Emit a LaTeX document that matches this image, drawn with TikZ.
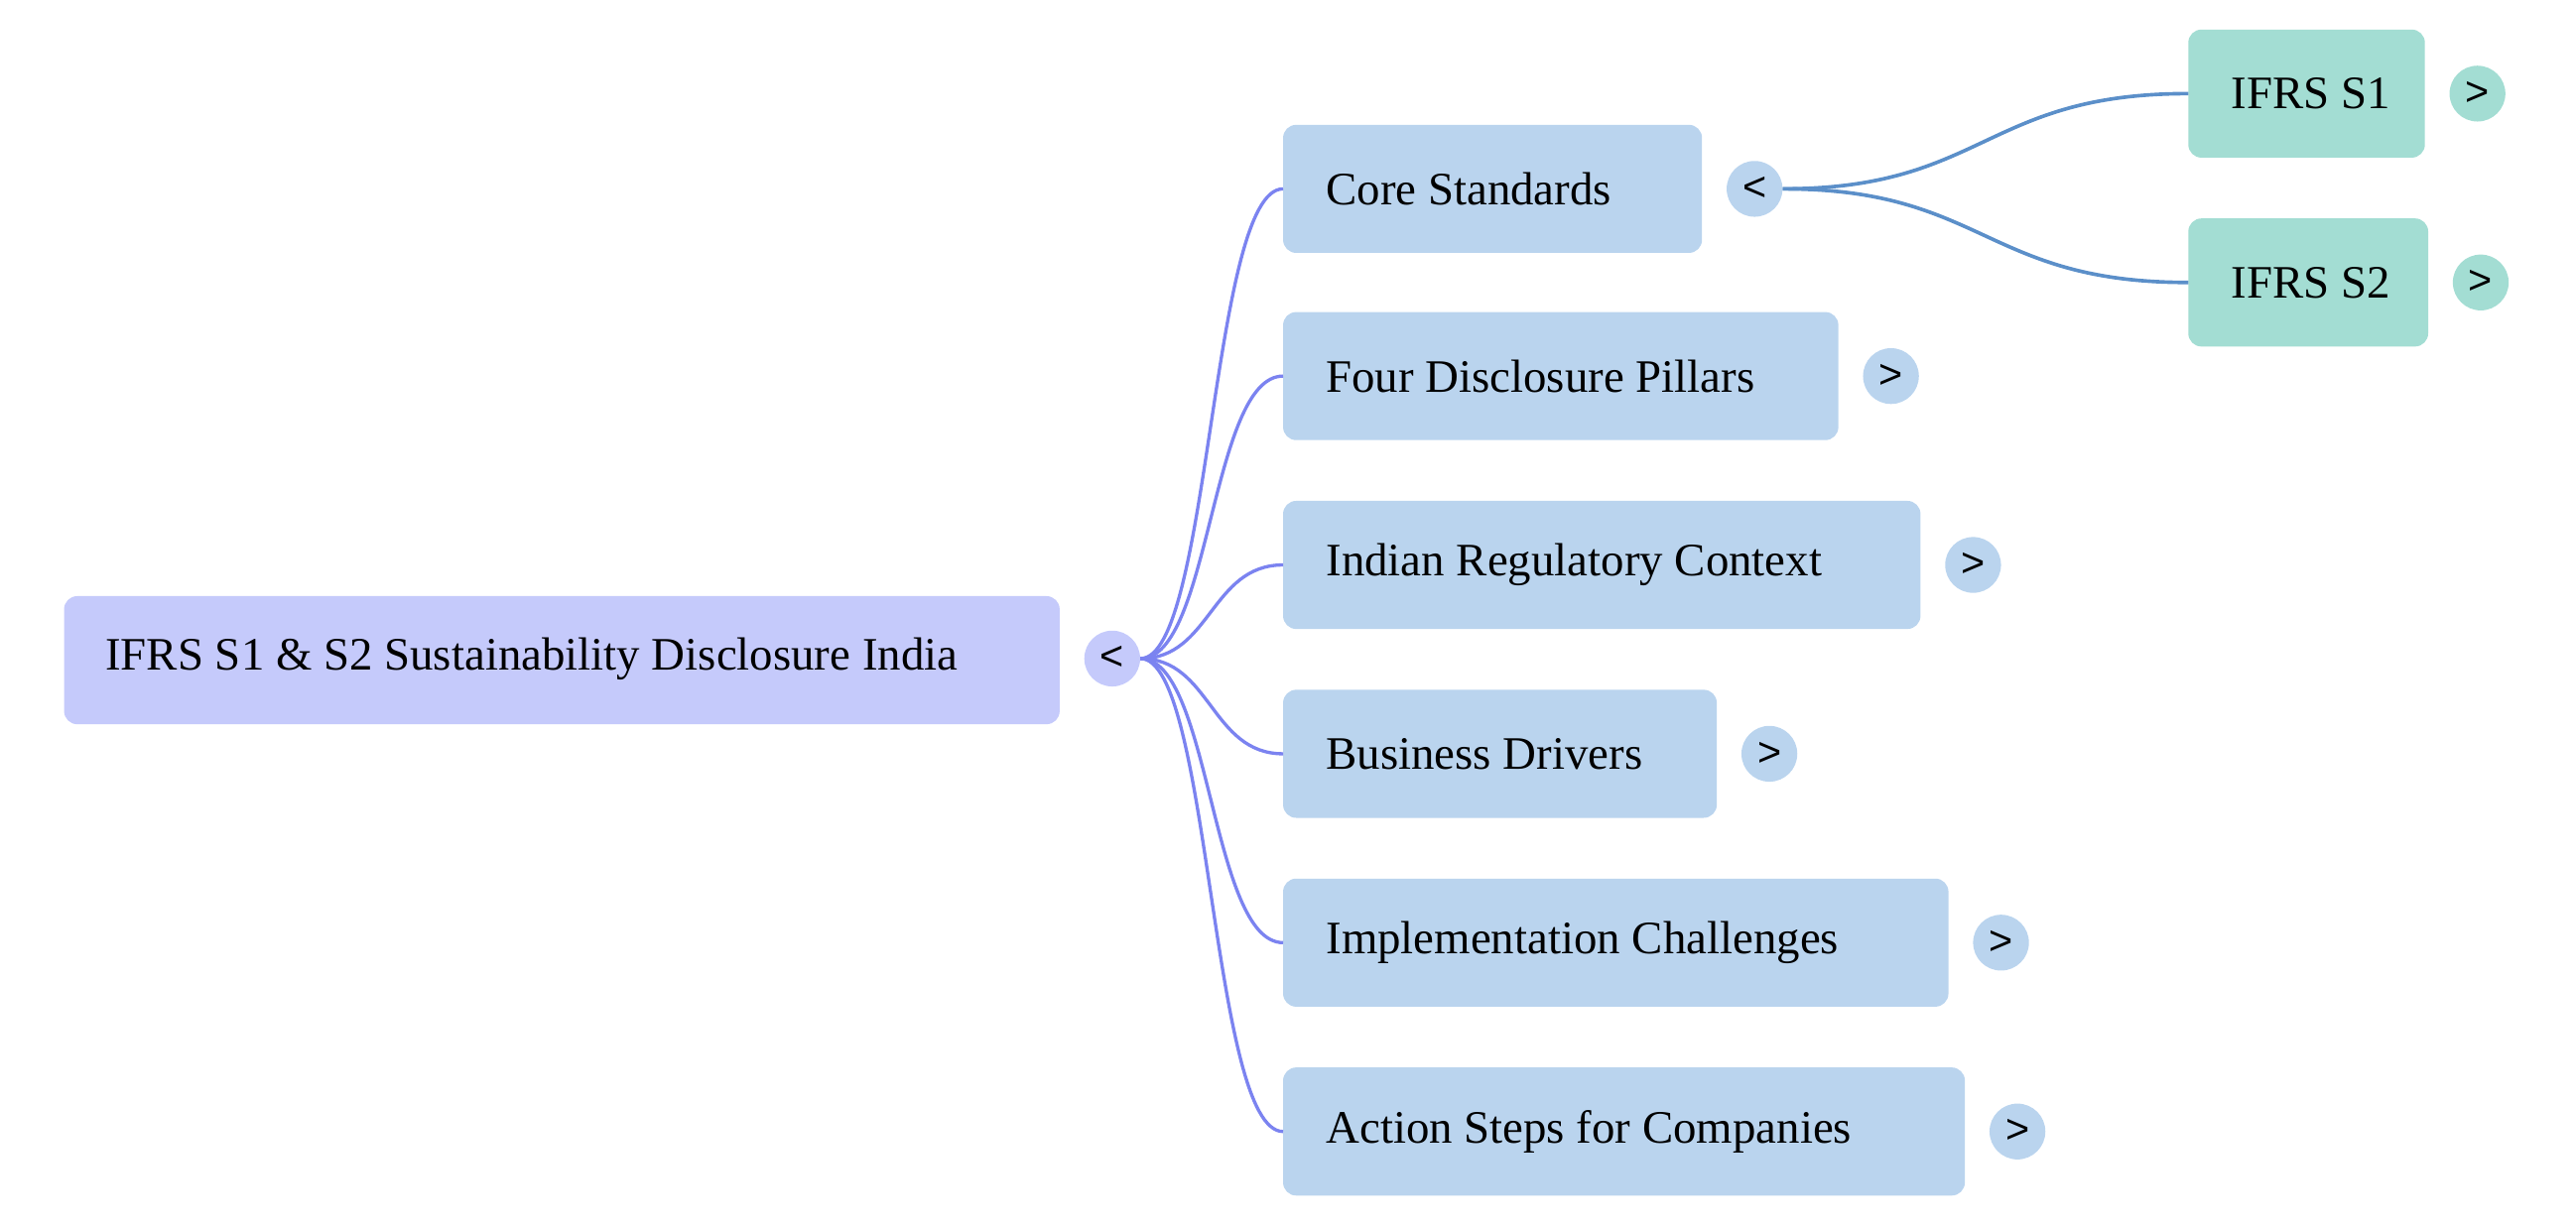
\documentclass[tikz,border=0pt]{standalone}
\usepackage{fontspec}
\setmainfont{Liberation Serif}
\newfontfamily\togfont{Liberation Sans}
\definecolor{rootc}{HTML}{C5CAFB}
\definecolor{childc}{HTML}{BAD4EE}
\definecolor{leafc}{HTML}{A3DDD3}
\definecolor{linkA}{HTML}{7B83F0}
\definecolor{linkB}{HTML}{5B8FC9}
\begin{document}
\begin{tikzpicture}[x=1pt,y=-1pt,
  box/.style={rounded corners=8pt,inner sep=0pt},
  lbl/.style={anchor=west,font=\fontsize{28.3}{31}\selectfont,inner sep=0pt},
  tog/.style={circle,minimum size=34pt,inner sep=0pt,font=\togfont\fontsize{25}{28}\selectfont},
  lA/.style={draw=linkA,line width=2pt},
  lB/.style={draw=linkB,line width=2.2pt}]
\useasboundingbox (0,0) rectangle (1568,747);
% root
\fill[rootc,box] (39,363) rectangle (645,441);
\node[lbl] (root) at (64,401) {IFRS S1 \& S2 Sustainability Disclosure India};
\node[tog,fill=rootc] (rt) at (677,401) {<};
% children
\foreach \n/\t/\r/\yc/\s in {c1/Core Standards/1036/115/<, c2/Four Disclosure Pillars/1119/229/>, c3/Indian Regulatory Context/1169/344/>, c4/Business Drivers/1045/459/>, c5/Implementation Challenges/1186/574/>, c6/Action Steps for Companies/1196/689/>}{
  \fill[childc,box] (781,\yc-39) rectangle (\r,\yc+39);
  \coordinate (\n in) at (781,\yc);
  \node[lbl] (\n) at (807,\yc) {\t};
  \node[tog,fill=childc] (\n t) at (\r+32,\yc) {\s};
  \draw[lA] (rt.east) .. controls (737,401) and (737,\yc) .. (\n in);
}
% leaves
\foreach \n/\t/\r/\yc in {s1/IFRS S1/1476/57, s2/IFRS S2/1478/172}{
  \fill[leafc,box] (1332,\yc-39) rectangle (\r,\yc+39);
  \coordinate (\n in) at (1332,\yc);
  \node[lbl] (\n) at (1358,\yc) {\t};
  \node[tog,fill=leafc] (\n t) at (\r+32,\yc) {>};
  \draw[lB] (c1t.east) .. controls (1208,115) and (1208,\yc) .. (\n in);
}
\end{tikzpicture}
\end{document}
